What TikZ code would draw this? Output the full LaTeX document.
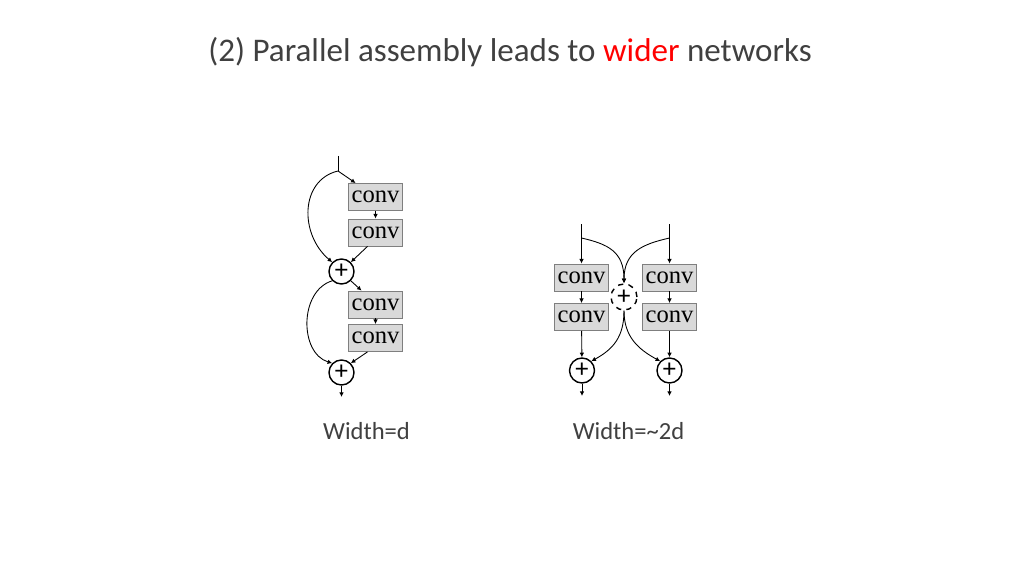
\documentclass[tikz,border=0pt]{standalone}
\usepackage{fontspec}
\setmainfont{Carlito}
\newfontfamily\convfont{Liberation Serif}
\usepackage{tikz}
\usetikzlibrary{arrows.meta,calc}
\usetikzlibrary{positioning}
\definecolor{txtgray}{RGB}{64,64,64}
\definecolor{boxfill}{RGB}{217,217,217}
\definecolor{boxline}{RGB}{127,127,127}

\begin{document}
\begin{tikzpicture}[x=0.02cm,y=-0.02cm,>={Latex[length=2.6pt,width=2.6pt]},line width=0.5pt,
  convbox/.style={draw=boxline,fill=boxfill,minimum width=1.07cm,minimum height=0.54cm,inner sep=0pt,font=\convfont\fontsize{14}{15}\selectfont},
  addnode/.style={draw,circle,line width=0.8pt,minimum size=0.5cm,inner sep=0pt,font=\fontsize{15}{16}\selectfont},
  dashadd/.style={addnode,dashed,minimum size=0.52cm},
  lbl/.style={text=txtgray,font=\fontsize{14}{16}\selectfont}]
\useasboundingbox (0,0) rectangle (1020,574);
% title
\node[text=txtgray,font=\fontsize{18.8}{22}\selectfont] (title) at (510,52) {(2) Parallel assembly leads to \textcolor{red}{wider} networks};
% left: two residual units in series
\coordinate (inA) at (338,156);
\coordinate (splitA) at (338,171);
\node[convbox] (convA1) at (375.5,197) {conv};
\node[convbox] (convA2) at (375.5,232.5) {conv};
\node[addnode] (plusA1) at (341.5,271.5) {+};
\node[convbox] (convA3) at (375.5,304.5) {conv};
\node[convbox] (convA4) at (375.5,338) {conv};
\node[addnode] (plusA2) at (341.5,372.5) {+};
\coordinate (outA) at (341.5,397);
\draw (inA) -- (splitA);
\draw[->] (splitA) -- (convA1.145);
\draw[->] (convA1) -- (convA2);
\draw[->] (convA2.240) -- (plusA1.45);
\draw[->] (splitA) .. controls +(-38,9) and +(-33,-28) .. (plusA1.135);
\draw[->] (plusA1.-45) -- (convA3.135);
\draw[->] (convA3) -- (convA4);
\draw[->] (convA4.240) -- (plusA2.45);
\draw[->] (plusA1.-135) .. controls +(-33,10) and +(-33,-10) .. (plusA2.135);
\draw[->] (plusA2) -- (outA);
\node[lbl] (wA) at (366.5,431) {Width=d};
% right: two branches side by side
\coordinate (inB) at (581.5,224);
\coordinate (splitB) at (581.5,238);
\coordinate (inC) at (669.5,224);
\coordinate (splitC) at (669.5,238);
\node[convbox] (convB1) at (581.5,277.5) {conv};
\node[convbox] (convB2) at (581.5,317) {conv};
\node[convbox] (convC1) at (669.5,277.5) {conv};
\node[convbox] (convC2) at (669.5,317) {conv};
\node[dashadd] (plusB) at (624,297) {+};
\node[addnode] (plusL) at (582,370.5) {+};
\node[addnode] (plusR) at (669.5,370.5) {+};
\coordinate (outB) at (582,396);
\coordinate (outC) at (669.5,396);
\draw (inB) -- (splitB);
\draw (inC) -- (splitC);
\draw[->] (splitB) -- (convB1);
\draw[->] (splitC) -- (convC1);
\draw[->] (convB1) -- (convB2);
\draw[->] (convC1) -- (convC2);
\draw[->] (splitB) .. controls +(26,6) and +(0,-32) .. (plusB.north);
\draw[->] (splitC) .. controls +(-26,6) and +(0,-32) .. (plusB.north);
\draw[->] (convB2) -- (plusL);
\draw[->] (convC2) -- (plusR);
\draw[->] (plusB.south) .. controls +(0,26) and +(22,-12) .. (plusL.45);
\draw[->] (plusB.south) .. controls +(0,26) and +(-22,-12) .. (plusR.135);
\draw[->] (plusL) -- (outB);
\draw[->] (plusR) -- (outC);
\node[lbl] (wB) at (628.5,431) {Width=\textasciitilde2d};
\end{tikzpicture}
\end{document}
